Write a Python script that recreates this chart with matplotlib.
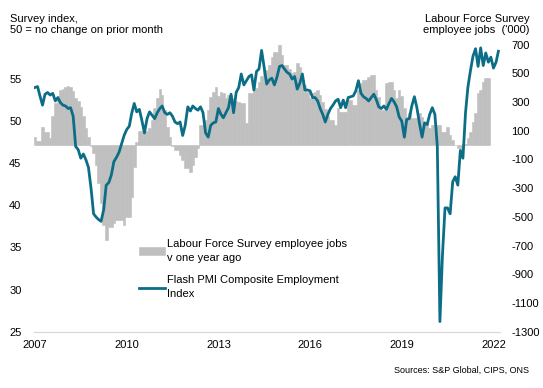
import matplotlib
matplotlib.use("Agg")
import matplotlib.pyplot as plt
import matplotlib.dates as mdates
import pandas as pd

plt.rcParams['font.family'] = ['Liberation Sans', 'DejaVu Sans']

# Flash PMI composite employment index, monthly from Jan 2007
pmi = [54.0, 54.1, 53.0, 51.9, 53.2, 53.4, 53.1, 53.3, 52.4, 52.8, 52.2, 51.9,
       51.8, 51.5, 51.6, 50.6, 47.0, 46.6, 45.6, 46.1, 45.4, 44.5, 42.0, 39.0,
       38.6, 38.3, 38.1, 39.5, 42.4, 42.7, 43.6, 45.2, 45.7, 46.3, 47.3, 48.3,
       49.0, 49.4, 50.9, 52.1, 51.1, 51.4, 50.1, 48.6, 50.3, 51.1, 50.7, 50.3,
       51.0, 51.5, 51.8, 51.0, 50.8, 51.0, 50.6, 49.9, 49.7, 49.9, 48.3, 49.5,
       51.7, 51.2, 51.8, 51.5, 51.3, 51.7, 51.0, 48.6, 48.1, 49.5, 49.8, 49.9,
       51.5, 50.8, 50.4, 51.0, 51.6, 53.2, 51.0, 53.4, 54.0, 55.6, 54.3, 54.8,
       55.3, 55.5, 53.7, 55.9, 56.2, 58.4, 56.4, 54.4, 54.9, 55.1, 54.3, 55.2,
       56.5, 56.6, 56.2, 55.8, 55.6, 55.0, 55.3, 53.8, 54.5, 55.6, 53.7, 53.7,
       53.6, 52.8, 52.8, 52.4, 51.5, 50.8, 49.9, 50.8, 51.5, 51.9, 52.4, 52.6,
       51.6, 52.5, 51.6, 52.8, 52.9, 53.0, 53.6, 54.8, 53.3, 52.9, 52.7, 52.4,
       52.8, 53.2, 52.6, 51.7, 51.5, 51.8, 51.4, 52.1, 52.7, 52.3, 51.7, 50.5,
       50.0, 48.1, 50.2, 50.3, 51.8, 52.9, 51.6, 49.7, 48.1, 49.8, 49.6, 50.8,
       51.6, 50.8, 47.0, 26.2, 34.0, 39.7, 39.7, 39.0, 42.8, 43.4, 42.4, 46.5,
       45.6, 51.0, 54.0, 56.0, 57.7, 58.6, 56.5, 58.7, 56.6, 58.1, 57.0, 57.6,
       56.3, 57.0, 58.3]

# LFS employee jobs, change v one year ago ('000), monthly from Jan 2007
lfs = [58, 30, 30, 123, 93, 93, 46, 200, 290, 340, 383, 390,
       402, 411, 405, 375, 330, 305, 262, 200, 120, 58, -10, -58,
       -139, -267, -406, -557, -662, -569, -569, -540, -522, -522, -522, -557,
       -499, -499, -360, -151, 20, 100, 100, 100, 100, 120, 174, 255,
       325, 388, 348, 244, 127, 58, -10, -35, -35, -70, -104, -162,
       -162, -186, -139, -81, -23, 139, 139, 174, 244, 336, 371, 406,
       340, 370, 360, 325, 348, 348, 330, 310, 300, 290, 290, 150,
       360, 360, 441, 400, 441, 480, 520, 520, 560, 615, 650, 650,
       696, 626, 557, 557, 530, 499, 510, 571, 540, 450, 418, 371,
       325, 360, 371, 383, 348, 300, 250, 200, 174, 174, 139, 255,
       232, 232, 232, 313, 313, 278, 278, 380, 430, 452, 452, 475,
       487, 487, 383, 336, 244, 244, 429, 441, 441, 383, 330, 380,
       340, 255, 197, 220, 186, 186, 186, 220, 197, 151, 151, 116,
       140, 104, 139, 139, 93, 93, 127, 70, 35, 0, -23, -70,
       5, 5, 46, 93, 162, 220, 360, 383, 441, 469, 469]

pmi_dates = pd.date_range('2007-01-01', periods=len(pmi), freq='MS')
lfs_dates = pd.date_range('2007-01-01', periods=len(lfs), freq='MS')

left_ticks = [25, 30, 35, 40, 45, 50, 55]
right_ticks = [-1300, -1100, -900, -700, -500, -300, -100, 100, 300, 500, 700]
year_ticks = [2007, 2010, 2013, 2016, 2019, 2022]

teal = '#0b6e86'
grey = '#bfbfbf'

fig = plt.figure(figsize=(5.43, 3.88), dpi=100)
ax = fig.add_axes([0.0626, 0.1451, 0.8582, 0.7402])
ax2 = ax.twinx()

# bars on the right-hand scale
bars = ax.bar(lfs_dates, lfs, width=31, color=grey, edgecolor=grey,
              linewidth=0.4, align='center',
              label='Labour Force Survey employee jobs\nv one year ago')
ax.set_ylim(-1300, 700)
ax.yaxis.tick_right()
ax.set_yticks(right_ticks)
ax.set_yticklabels([str(t) for t in right_ticks])

# line on the left-hand scale
line, = ax2.plot(pmi_dates, pmi, color=teal, linewidth=2.0,
                 label='Flash PMI Composite Employment\nIndex')
ax2.set_ylim(25, 59.1)
ax2.yaxis.tick_left()
ax2.set_yticks(left_ticks)

ax.set_xlim(pd.Timestamp('2006-12-20'), pd.Timestamp('2022-03-20'))
ax.set_xticks([pd.Timestamp(f'{y}-01-01') for y in year_ticks])
ax.xaxis.set_major_formatter(mdates.DateFormatter('%Y'))

for a in (ax, ax2):
    for s in ('top', 'left', 'right'):
        a.spines[s].set_visible(False)
    a.spines['bottom'].set_color('#d9d9d9')
    a.tick_params(length=0, labelsize=8, colors='black')
ax.tick_params(axis='y', pad=8)
ax2.tick_params(axis='y', pad=9)
ax.tick_params(axis='x', pad=6)

fig.text(0.018, 0.965, 'Survey index,\n50 = no change on prior month', fontsize=8,
         va='top', ha='left', linespacing=1.2)
fig.text(0.975, 0.965, "Labour Force Survey\nemployee jobs  ('000)", fontsize=8,
         va='top', ha='right', linespacing=1.2)
fig.text(0.975, 0.035, 'Sources: S&P Global, CIPS, ONS', fontsize=6.5,
         va='bottom', ha='right')

leg = ax2.legend([bars, line], [bars.get_label(), line.get_label()],
                 loc='upper left', bbox_to_anchor=(0.2486, 0.395),
                 bbox_transform=fig.transFigure, frameon=False, fontsize=8,
                 handlelength=2.3, handletextpad=0.2, labelspacing=1.1,
                 borderaxespad=0)
for t in leg.get_texts():
    t.set_linespacing(1.5)

fig.savefig('out.png', dpi=100)
